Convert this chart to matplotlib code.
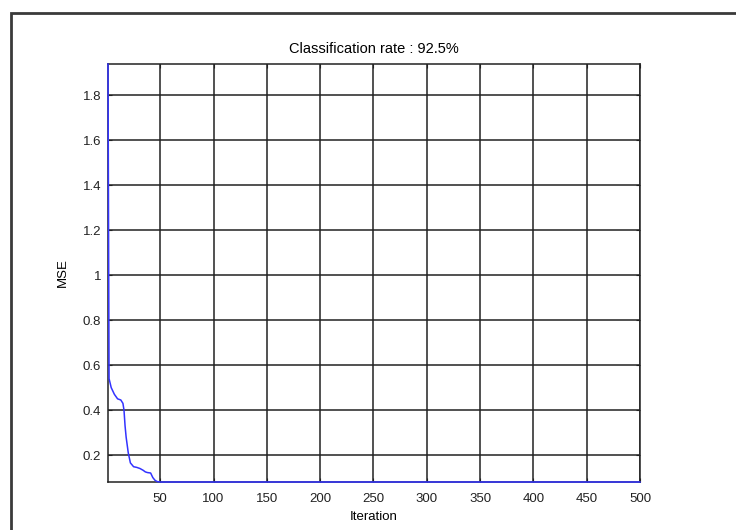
import matplotlib
matplotlib.use('Agg')
import matplotlib.pyplot as plt
from matplotlib.patches import Rectangle

iteracoes = [1, 2, 4, 7, 10, 13, 15, 16, 17, 18, 20, 22, 25, 28, 31, 34, 36, 38, 41, 43, 45, 47, 50, 500]
mse = [1.94, 0.54, 0.50, 0.47, 0.45, 0.445, 0.43, 0.40, 0.33, 0.28, 0.21, 0.165, 0.148, 0.145,
       0.14, 0.132, 0.125, 0.122, 0.12, 0.10, 0.088, 0.082, 0.08, 0.08]
xticks = [50, 100, 150, 200, 250, 300, 350, 400, 450, 500]
yticks = [0.2, 0.4, 0.6, 0.8, 1, 1.2, 1.4, 1.6, 1.8]

plt.rcParams['font.family'] = ['Liberation Sans', 'DejaVu Sans']

fig = plt.figure(figsize=(7.36, 5.30), dpi=100)

# Moldura externa (cortada a direita e embaixo)
fig.patches.append(Rectangle((11 / 736, -0.1), 1.2, 1 - 13 / 530 + 0.1, transform=fig.transFigure,
                             fill=False, edgecolor='#3a3a3a', linewidth=2))

ax = fig.add_axes([108 / 736, 1 - 482 / 530, 532 / 736, 418 / 530])
ax.plot(iteracoes, mse, color='#3333ff', linewidth=1.1, zorder=5, clip_on=False)

ax.set_xlim(1, 500)
ax.set_ylim(min(mse), max(mse))
ax.set_xticks(xticks)
ax.set_xticklabels([str(t) for t in xticks])
ax.set_yticks(yticks)
ax.set_yticklabels(['0.2', '0.4', '0.6', '0.8', '1', '1.2', '1.4', '1.6', '1.8'])

ax.grid(True, color='#222222', linestyle='-', linewidth=1.1)
ax.tick_params(direction='in', length=3, labelsize=9.5, colors='#222222', top=True, right=True)
ax.tick_params(axis='x', pad=8)
ax.tick_params(axis='y', pad=5)
for s in ax.spines.values():
    s.set_linewidth(1.1)
    s.set_color('#222222')

ax.set_title('Classification rate : 92.5%', fontsize=10.5, pad=8)
ax.set_xlabel('Iteration', fontsize=9.5, labelpad=4)
ax.set_ylabel('MSE', fontsize=9.5, labelpad=10)

fig.savefig('out.png', dpi=100)
